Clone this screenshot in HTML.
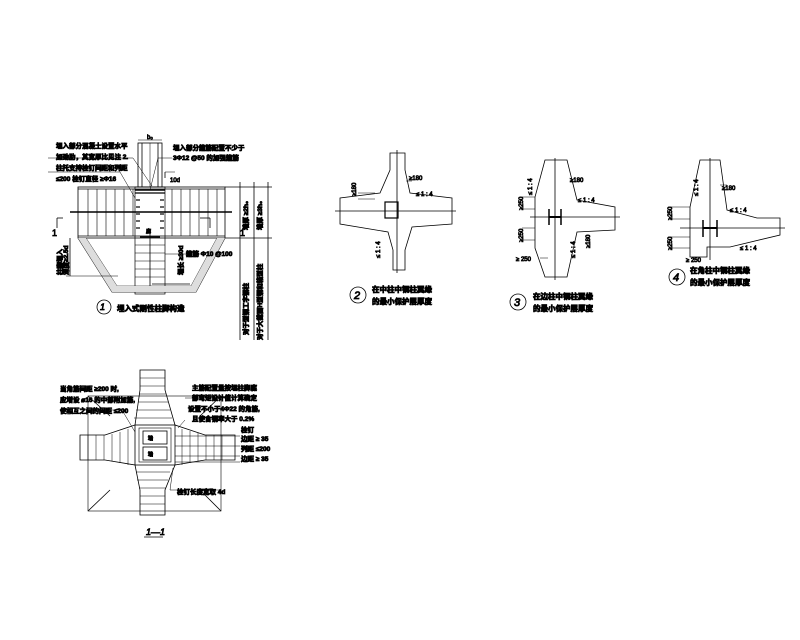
<!DOCTYPE html>
<html><head><meta charset="utf-8"><style>
html,body{margin:0;padding:0;background:#fff;}
svg{display:block}
text{font-family:"Liberation Sans","Noto Sans CJK SC",sans-serif;fill:#000}
.c{font-family:"Liberation Sans","Noto Sans CJK SC",sans-serif;font-weight:bold;font-size:6.5px}
.s{font-size:6px}
.cap{font-size:7.5px}
</style></head><body>
<svg width="800" height="640" viewBox="0 0 800 640" xmlns="http://www.w3.org/2000/svg" stroke="#000" fill="none" stroke-width="0.8">
<!-- ===== Detail 1 ===== -->
<g>
<rect x="78" y="187" width="147" height="51"/>
<line x1="78" y1="189" x2="225" y2="189"/>
<line x1="78" y1="236" x2="225" y2="236"/>
<line x1="70" y1="212" x2="232" y2="212" stroke-width="1.4"/>
<g stroke-width="0.6">
<line x1="88" y1="189" x2="88" y2="236"/><line x1="97" y1="189" x2="97" y2="236"/><line x1="106" y1="189" x2="106" y2="236"/><line x1="115" y1="189" x2="115" y2="236"/><line x1="124" y1="189" x2="124" y2="236"/><line x1="133" y1="189" x2="133" y2="236"/>
<line x1="172" y1="189" x2="172" y2="236"/><line x1="181" y1="189" x2="181" y2="236"/><line x1="190" y1="189" x2="190" y2="236"/><line x1="199" y1="189" x2="199" y2="236"/><line x1="208" y1="189" x2="208" y2="236"/><line x1="217" y1="189" x2="217" y2="236"/>
</g>
<rect x="138" y="143" width="24" height="44"/>
<line x1="142" y1="143" x2="142" y2="187"/><line x1="158" y1="143" x2="158" y2="187"/>
<line x1="150" y1="143" x2="150" y2="187" stroke-width="0.5"/>
<rect x="135" y="187" width="30" height="107" stroke-width="0.7"/>
<line x1="135" y1="190" x2="165" y2="190" stroke-width="1.6"/>
<line x1="135" y1="193" x2="165" y2="193" stroke-width="1.2"/>
<g stroke-width="1.2"><line x1="136" y1="200" x2="140" y2="200"/><line x1="136" y1="207" x2="140" y2="207"/><line x1="136" y1="214" x2="140" y2="214"/><line x1="136" y1="221" x2="140" y2="221"/><line x1="136" y1="228" x2="140" y2="228"/>
<line x1="160" y1="200" x2="164" y2="200"/><line x1="160" y1="207" x2="164" y2="207"/><line x1="160" y1="214" x2="164" y2="214"/><line x1="160" y1="221" x2="164" y2="221"/><line x1="160" y1="228" x2="164" y2="228"/></g>
<line x1="150" y1="230" x2="150" y2="290"/>
<line x1="140" y1="237" x2="160" y2="237" stroke-width="1.6"/>
<line x1="142" y1="290" x2="158" y2="290" stroke-width="1.6"/>
<g stroke-width="0.5"><line x1="135" y1="245" x2="165" y2="245"/><line x1="135" y1="253" x2="165" y2="253"/><line x1="135" y1="261" x2="165" y2="261"/><line x1="135" y1="269" x2="165" y2="269"/><line x1="135" y1="277" x2="165" y2="277"/></g>
<polyline points="78,238 112,292 196,292 225,238"/>
<polyline points="86,238 117,286 191,286 217,238" stroke-width="0.6"/>
<polygon points="78,238 86,238 117,286 191,286 217,238 225,238 196,292 112,292" fill="#ddd" stroke="none"/>
<line x1="152" y1="284" x2="190" y2="284"/>
<line x1="70" y1="238" x2="70" y2="276"/><line x1="66" y1="276" x2="118" y2="276" stroke-width="0.5"/>
<line x1="57" y1="218" x2="57" y2="228"/><line x1="57" y1="218" x2="63" y2="218"/>
<line x1="200" y1="218" x2="210" y2="218"/><line x1="210" y1="218" x2="210" y2="228"/>
<line x1="240" y1="182" x2="240" y2="340"/><line x1="254" y1="182" x2="254" y2="340"/><line x1="268" y1="182" x2="268" y2="340"/>
<line x1="225" y1="187" x2="272" y2="187"/><line x1="225" y1="238" x2="272" y2="238"/>
<line x1="138" y1="140" x2="162" y2="140" stroke-width="0.5"/>
<line x1="165" y1="172" x2="165" y2="178"/><line x1="165" y1="172" x2="175" y2="172" stroke-width="0.5"/>
<polyline points="48,158 133,158 152,186" stroke-width="0.5"/>
<polyline points="48,172 120,172 135,198" stroke-width="0.5"/>
<polyline points="172,158 158,158 150,190" stroke-width="0.5"/>
<line x1="165" y1="254" x2="205" y2="254" stroke-width="0.5"/>
<circle cx="104" cy="307" r="7"/>
</g>
<g class="c">
<text x="56" y="148">埋入部分混凝土设置水平</text>
<text x="56" y="159">加劲肋，其宽厚比见注 2.</text>
<text x="56" y="170">柱托支持栓钉间距和列距</text>
<text x="56" y="181">≤200 栓钉直径 ≥Φ16</text>
<text x="173" y="150">埋入部分箍筋配置不少于</text>
<text x="173" y="160">3Φ12 @50 的加强箍筋</text>
<text x="170" y="182" class="s" font-weight="normal">10d</text>
<text x="147" y="139" class="s" font-weight="normal">b₀</text>
<text x="186" y="256">箍筋 Φ10 @100</text>
<text x="100" y="310" font-weight="normal" font-style="italic" font-size="9">1</text>
<text x="117" y="311" font-size="7.5">埋入式刚性柱脚构造</text>
<text x="52" y="236" font-size="9" font-weight="normal">1</text>
<text x="240" y="236" font-size="9" font-weight="normal">1</text>
<text x="146" y="233" font-size="5">底</text>
</g>
<g class="c" font-size="6">
<text transform="translate(248,230) rotate(-90)">墙厚 ≥2h₀</text>
<text transform="translate(262,230) rotate(-90)">墙厚 ≥3h₀</text>
<text transform="translate(248,335) rotate(-90)">对于型钢工字钢柱</text>
<text transform="translate(262,340) rotate(-90)">对于大截面H型钢和箱型柱</text>
<text transform="translate(62,275) rotate(-90)">柱脚埋入</text>
<text transform="translate(68,275) rotate(-90)">深度≥2.5d</text>
<text transform="translate(183,275) rotate(-90)">埋长 ≥30d</text>
</g>

<!-- ===== Detail 1-1 ===== -->
<g>
<rect x="88" y="396" width="133" height="115" stroke-width="0.6"/>
<line x1="88" y1="511" x2="110" y2="490"/><line x1="221" y1="511" x2="200" y2="490"/>
<line x1="88" y1="396" x2="110" y2="416"/><line x1="221" y1="396" x2="200" y2="416"/>
<polygon points="140,370 165,370 165,390 175,425 205,435 235,435 235,460 205,460 175,465 165,490 165,515 140,515 140,490 135,465 105,460 80,460 80,435 105,435 135,425 140,390"/>
<rect x="135" y="425" width="40" height="40"/>
<rect x="139" y="428" width="32" height="34" stroke-width="0.6"/>
<rect x="143" y="431" width="24" height="13"/><rect x="143" y="447" width="24" height="13"/>
<g stroke-width="0.5">
<line x1="140" y1="378" x2="165" y2="378"/><line x1="140" y1="386" x2="165" y2="386"/><line x1="139" y1="394" x2="166" y2="394"/><line x1="138" y1="402" x2="168" y2="402"/><line x1="136" y1="410" x2="170" y2="410"/><line x1="134" y1="418" x2="172" y2="418"/>
<line x1="136" y1="472" x2="170" y2="472"/><line x1="137" y1="480" x2="168" y2="480"/><line x1="139" y1="488" x2="166" y2="488"/><line x1="140" y1="496" x2="165" y2="496"/><line x1="140" y1="504" x2="165" y2="504"/>
<line x1="88" y1="435" x2="88" y2="460"/><line x1="96" y1="435" x2="96" y2="460"/><line x1="104" y1="435" x2="104" y2="460"/><line x1="112" y1="434" x2="112" y2="461"/><line x1="120" y1="432" x2="120" y2="463"/><line x1="128" y1="429" x2="128" y2="465"/>
<line x1="182" y1="429" x2="182" y2="465"/><line x1="190" y1="431" x2="190" y2="463"/><line x1="198" y1="433" x2="198" y2="461"/><line x1="206" y1="435" x2="206" y2="460"/><line x1="214" y1="435" x2="214" y2="460"/><line x1="222" y1="435" x2="222" y2="460"/>
<line x1="175" y1="436" x2="240" y2="436"/><line x1="175" y1="446" x2="240" y2="446"/><line x1="175" y1="456" x2="240" y2="456"/><line x1="175" y1="462" x2="240" y2="462"/>
<polyline points="185,398 226,398"/><polyline points="80,410 122,410 135,432"/>
<polyline points="185,420 178,428"/><line x1="170" y1="490" x2="220" y2="490"/><line x1="170" y1="490" x2="173" y2="468"/>
</g>
<line x1="144" y1="537" x2="163" y2="537" stroke-width="0.7"/>
</g>
<g class="c" font-size="6">
<text x="60" y="391">当角筋间距 ≥200 时,</text>
<text x="60" y="402">应增设 ⌀16 的中部附加筋,</text>
<text x="60" y="413">使相互之间的间距 ≤200</text>
<text x="192" y="390">主筋配置量按埋柱脚底</text>
<text x="192" y="400">部弯矩设计值计算确定</text>
<text x="188" y="411">设置不小于4Φ22 的角筋,</text>
<text x="192" y="421">且使含钢率大于 0.2%</text>
<text x="241" y="432">栓钉</text>
<text x="241" y="441">边距 ≥ 35</text>
<text x="241" y="451">列距 ≤200</text>
<text x="241" y="461">边距 ≥ 35</text>
<text x="177" y="494">栓钉长度宽取 4d</text>
<text x="146" y="535" font-weight="normal" font-style="italic" font-size="9">1—1</text>
<text x="148" y="440" font-size="5">墙</text><text x="148" y="456" font-size="5">墙</text>
</g>

<!-- ===== Detail 2 ===== -->
<g>
<polygon points="390,153 405,153 405,170 410,193 452,198 452,224 412,227 405,250 405,270 393,270 393,250 388,232 340,224 340,198 380,193 390,170"/>
<line x1="335" y1="211" x2="456" y2="211"/><line x1="397" y1="150" x2="397" y2="273"/>
<rect x="385" y="202" width="13" height="16" stroke-width="1.2"/>
<g stroke-width="0.5"><line x1="358" y1="193" x2="375" y2="193"/><line x1="358" y1="199" x2="375" y2="199"/><line x1="406" y1="181" x2="412" y2="181"/></g>
</g>
<g class="s">
<text x="409" y="180">≥180</text>
<text x="416" y="196">≤ 1 : 4</text>
<text transform="translate(356,196) rotate(-90)">≥180</text>
<text transform="translate(380,258) rotate(-90)">≤ 1 : 4</text>
</g>
<circle cx="358" cy="295" r="8" stroke-width="0.8"/>
<g class="c"><text x="354" y="299" font-weight="normal" font-style="italic" font-size="11">2</text>
<text class="cap" x="372" y="292">在中柱中钢柱翼缘</text><text class="cap" x="372" y="304">的最小保护层厚度</text></g>

<!-- ===== Detail 3 ===== -->
<g>
<polygon points="545,160 567,160 577,200 615,207 615,230 577,232 567,277 545,277 535,248 535,197"/>
<line x1="555" y1="158" x2="555" y2="280"/><line x1="530" y1="217" x2="620" y2="217"/>
<line x1="549" y1="209" x2="549" y2="225" stroke-width="1.5"/><line x1="561" y1="209" x2="561" y2="225" stroke-width="1.5"/>
<line x1="549" y1="217" x2="561" y2="217" stroke-width="2"/>
<g stroke-width="0.5"><line x1="522" y1="197" x2="535" y2="197"/><line x1="522" y1="209" x2="535" y2="209"/><line x1="522" y1="228" x2="535" y2="228"/><line x1="522" y1="240" x2="535" y2="240"/><line x1="540" y1="258" x2="548" y2="258"/></g>
</g>
<g class="s">
<text x="570" y="182">≥180</text><text x="578" y="202">≤ 1 : 4</text>
<text transform="translate(532,195) rotate(-90)">≤ 1 : 4</text>
<text transform="translate(523,210) rotate(-90)">≥250</text>
<text transform="translate(523,242) rotate(-90)">≥250</text>
<text x="516" y="261">≥ 250</text>
<text transform="translate(575,258) rotate(-90)">≤ 1 : 4</text>
<text transform="translate(590,248) rotate(-90)">≥180</text>
</g>
<circle cx="518" cy="302" r="8"/>
<g class="c"><text x="514" y="306" font-weight="normal" font-style="italic" font-size="11">3</text>
<text class="cap" x="533" y="299">在边柱中钢柱翼缘</text><text class="cap" x="533" y="311">的最小保护层厚度</text></g>

<!-- ===== Detail 4 ===== -->
<g>
<polygon points="700,160 720,160 727,210 757,218 780,218 780,235 730,247 707,247 707,257 690,257 690,207"/>
<line x1="710" y1="158" x2="710" y2="260"/><line x1="680" y1="228" x2="785" y2="228"/>
<line x1="703" y1="220" x2="703" y2="237" stroke-width="1.5"/><line x1="717" y1="220" x2="717" y2="237" stroke-width="1.5"/>
<line x1="703" y1="228" x2="717" y2="228" stroke-width="2"/>
<g stroke-width="0.5"><line x1="668" y1="207" x2="690" y2="207"/><line x1="668" y1="219" x2="690" y2="219"/><line x1="668" y1="237" x2="690" y2="237"/><line x1="668" y1="248" x2="690" y2="248"/><line x1="720" y1="185" x2="727" y2="185"/></g>
</g>
<g class="s">
<text x="722" y="190">≥180</text><text x="730" y="212">≤ 1 : 4</text>
<text transform="translate(698,196) rotate(-90)">≤ 1 : 4</text>
<text transform="translate(672,220) rotate(-90)">≥250</text>
<text transform="translate(672,250) rotate(-90)">≥250</text>
<text x="686" y="262">≥ 250</text><text x="740" y="250">≤ 1 : 4</text>
</g>
<circle cx="677" cy="277" r="8"/>
<g class="c"><text x="673" y="281" font-weight="normal" font-style="italic" font-size="11">4</text>
<text class="cap" x="690" y="273">在角柱中钢柱翼缘</text><text class="cap" x="690" y="285">的最小保护层厚度</text></g>
</svg>
</body></html>
